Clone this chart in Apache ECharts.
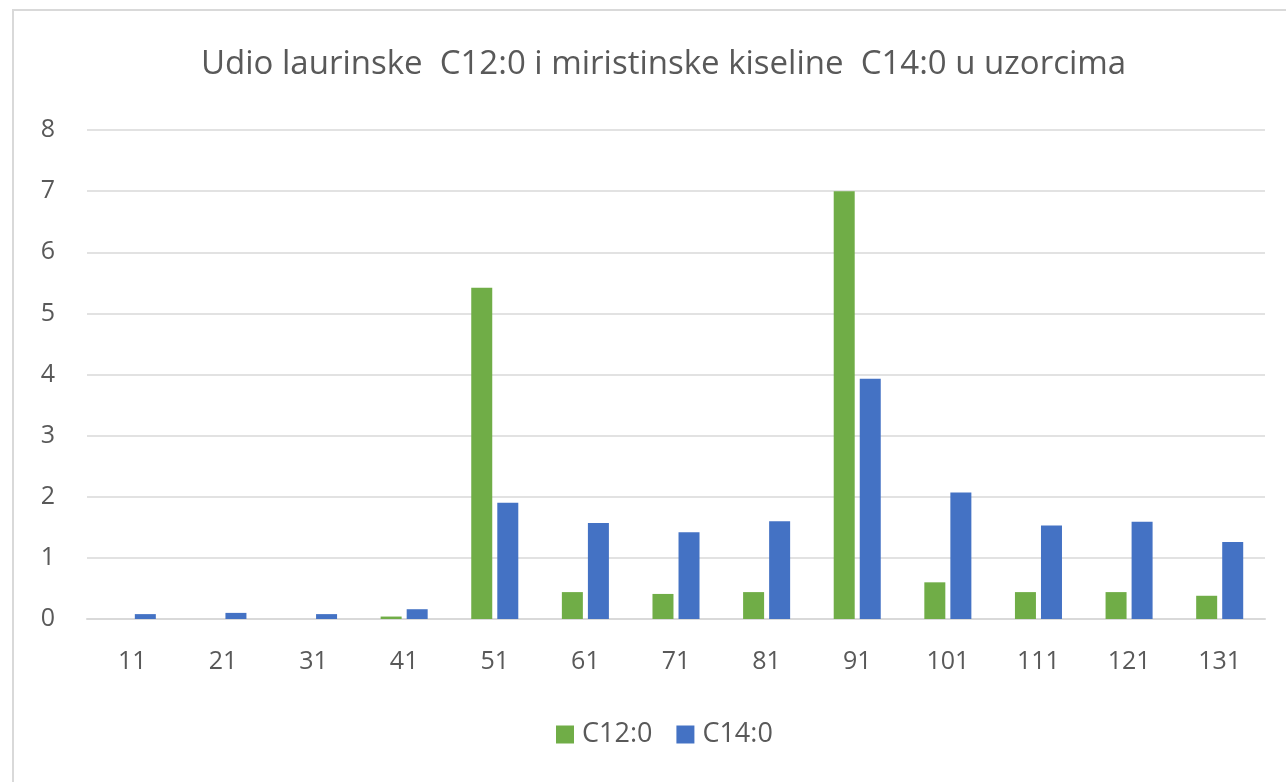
<!DOCTYPE html>
<html>
<head>
<meta charset="utf-8">
<script src="https://cdn.jsdelivr.net/npm/echarts@6/dist/echarts.min.js"></script>
<style>
  html, body { margin: 0; padding: 0; background: #fff; }
  #chart { width: 1286px; height: 782px; }
</style>
</head>
<body>
<div id="chart"></div>
<script>
var categories = ['11', '21', '31', '41', '51', '61', '71', '81', '91', '101', '111', '121', '131'];
var c12 = [0, 0, 0, 0.04, 5.42, 0.44, 0.41, 0.44, 7.0, 0.6, 0.44, 0.44, 0.38];
var c14 = [0.08, 0.1, 0.08, 0.16, 1.9, 1.57, 1.42, 1.6, 3.93, 2.07, 1.53, 1.59, 1.26];

var chart = echarts.init(document.getElementById('chart'));
var font = '"Open Sans", sans-serif';
var option = {
    animation: false,
    backgroundColor: '#fff',
    graphic: [{
        type: 'rect',
        shape: { x: 13, y: 10, width: 1290, height: 790 },
        style: { fill: 'none', stroke: '#d9d9d9', lineWidth: 2 }
    }],
    title: {
        text: 'Udio laurinske  C12:0 i miristinske kiseline  C14:0 u uzorcima',
        left: 196,
        top: 43,
        textStyle: { color: '#595959', fontSize: 33, fontWeight: 'normal', fontFamily: font }
    },
    legend: {
        top: 716,
        left: 551,
        itemWidth: 18,
        itemHeight: 18,
        itemGap: 24,
        icon: 'rect',
        textStyle: { color: '#595959', fontSize: 27, fontFamily: font, padding: [0, 0, 0, 3] },
        data: ['C12:0', 'C14:0']
    },
    grid: { left: 87, right: 21, top: 130, bottom: 163 },
    xAxis: {
        type: 'category',
        data: categories,
        axisLine: { lineStyle: { color: '#d9d9d9', width: 2 } },
        axisTick: { show: false },
        axisLabel: { color: '#595959', fontSize: 25, margin: 30, fontFamily: font }
    },
    yAxis: {
        type: 'value',
        min: 0,
        max: 8,
        interval: 1,
        axisLine: { show: false },
        axisTick: { show: false },
        splitLine: { lineStyle: { color: '#d9d9d9', width: 1.5 } },
        axisLabel: { color: '#595959', fontSize: 25, margin: 32, fontFamily: font }
    },
    series: [
        {
            name: 'C12:0',
            type: 'bar',
            data: c12,
            barWidth: 21,
            barGap: '24%',
            itemStyle: { color: '#70ad47' }
        },
        {
            name: 'C14:0',
            type: 'bar',
            data: c14,
            barWidth: 21,
            itemStyle: { color: '#4472c4' }
        }
    ]
};
chart.setOption(option);
window.onresize = function () {
    chart.resize();
};
</script>
</body>
</html>
